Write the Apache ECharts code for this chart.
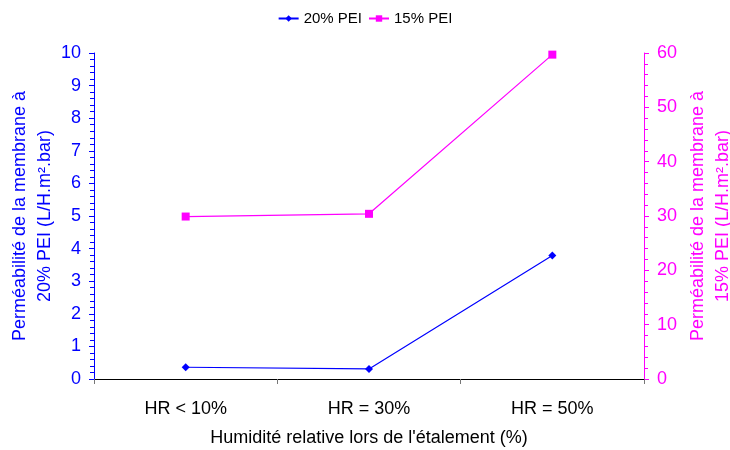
<!DOCTYPE html>
<html>
<head>
<meta charset="utf-8">
<script src="https://cdn.jsdelivr.net/npm/echarts@6/dist/echarts.min.js"></script>
<style>
  html, body { margin: 0; padding: 0; background: #fff; }
  #chart { width: 730px; height: 450px; }
</style>
</head>
<body>
<div id="chart"></div>
<script>
// données
var categories = ['HR < 10%', 'HR = 30%', 'HR = 50%'];
var pei20 = [0.36, 0.31, 3.79];
var pei15 = [29.9, 30.4, 59.7];
var leftTicks = [0, 10, 1];   // min, max, pas
var rightTicks = [0, 60, 10];

var font = 'Liberation Sans, Arial, sans-serif';
var blue = '#0000ff';
var pink = '#ff00ff';

var myChart = echarts.init(document.getElementById('chart'));
var option = {
    animation: false,
    textStyle: { fontFamily: font },
    legend: {
        top: 6,
        left: 'center',
        itemWidth: 20,
        itemHeight: 8,
        itemGap: 6,
        textStyle: { fontSize: 15, color: '#000', fontFamily: font },
        data: ['20% PEI', '15% PEI']
    },
    grid: { left: 94, right: 86, top: 53, bottom: 71, outerBoundsMode: 'none' },
    xAxis: {
        type: 'category',
        data: categories,
        boundaryGap: true,
        axisLine: { lineStyle: { color: '#000', width: 1 } },
        axisTick: { show: true, length: 5, lineStyle: { color: '#777' } },
        axisLabel: { fontSize: 18, color: '#000', margin: 21, fontFamily: font },
        name: "Humidité relative lors de l'étalement (%)",
        nameLocation: 'middle',
        nameGap: 50,
        nameMoveOverlap: false,
        nameTextStyle: { fontSize: 18, color: '#000', fontFamily: font }
    },
    yAxis: [
        {
            type: 'value',
            min: leftTicks[0], max: leftTicks[1], interval: leftTicks[2],
            position: 'left',
            axisLine: { show: true, lineStyle: { color: blue, width: 1 } },
            axisTick: { show: true, length: 5, lineStyle: { color: blue } },
            minorTick: { show: true, splitNumber: 5, length: 4, lineStyle: { color: blue } },
            splitLine: { show: false },
            axisLabel: { fontSize: 18, color: blue, margin: 13, fontFamily: font },
            name: 'Perméabilité de la membrane à\n20% PEI (L/H.m².bar)',
            nameLocation: 'middle',
            nameGap: 36,
            nameRotate: 90,
            nameMoveOverlap: false,
            nameTextStyle: { fontSize: 18, color: blue, lineHeight: 25, fontFamily: font }
        },
        {
            type: 'value',
            min: rightTicks[0], max: rightTicks[1], interval: rightTicks[2],
            position: 'right',
            axisLine: { show: true, lineStyle: { color: pink, width: 1 } },
            axisTick: { show: true, length: 5, lineStyle: { color: pink } },
            minorTick: { show: true, splitNumber: 5, length: 4, lineStyle: { color: pink } },
            splitLine: { show: false },
            axisLabel: { fontSize: 18, color: pink, margin: 13, fontFamily: font },
            name: 'Perméabilité de la membrane à\n15% PEI (L/H.m².bar)',
            nameLocation: 'middle',
            nameGap: 42,
            nameRotate: 90,
            nameMoveOverlap: false,
            nameTextStyle: { fontSize: 18, color: pink, lineHeight: 25, fontFamily: font }
        }
    ],
    series: [
        {
            name: '20% PEI',
            type: 'line',
            yAxisIndex: 0,
            data: pei20,
            symbol: 'diamond',
            symbolSize: 8,
            itemStyle: { color: blue },
            lineStyle: { color: blue, width: 1.2 }
        },
        {
            name: '15% PEI',
            type: 'line',
            yAxisIndex: 1,
            data: pei15,
            symbol: 'rect',
            symbolSize: 8,
            itemStyle: { color: pink },
            lineStyle: { color: pink, width: 1.2 }
        }
    ]
};
myChart.setOption(option);
</script>
</body>
</html>
